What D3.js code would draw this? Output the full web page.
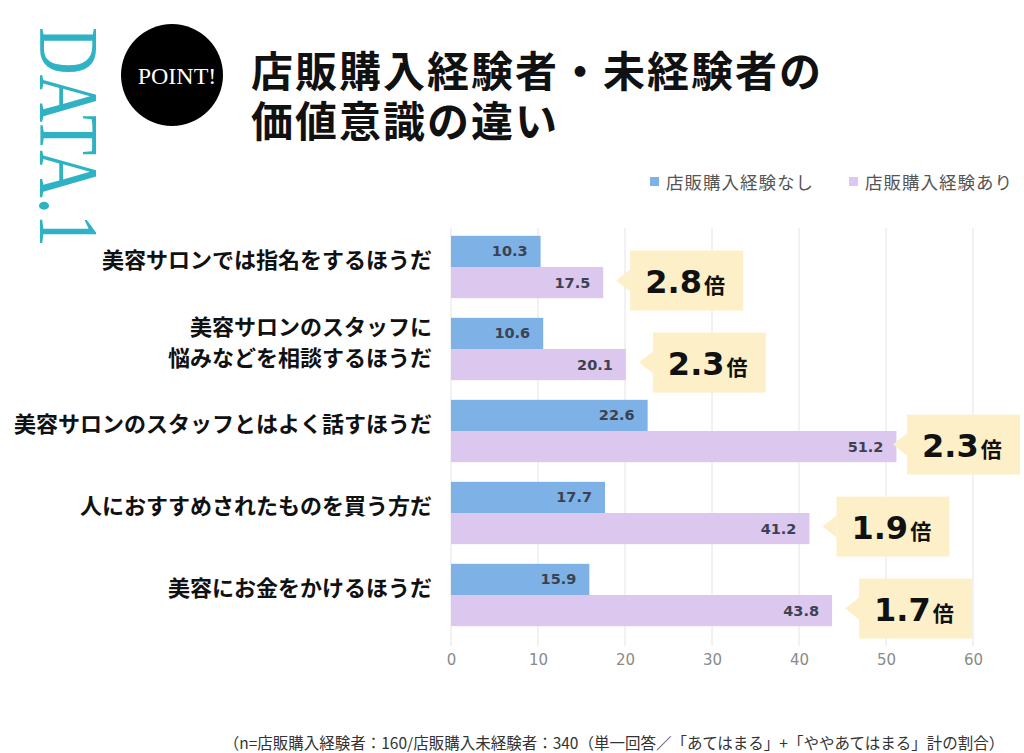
<!DOCTYPE html>
<html><head><meta charset="utf-8">
<script src="https://cdn.jsdelivr.net/npm/d3@7"></script>
<style>body{margin:0;background:#fff;}svg{display:block;}</style>
</head><body>
<svg id="c" width="1024" height="753"></svg>
<script>
const categories = [
  ["美容サロンでは指名をするほうだ"],
  ["美容サロンのスタッフに","悩みなどを相談するほうだ"],
  ["美容サロンのスタッフとはよく話すほうだ"],
  ["人におすすめされたものを買う方だ"],
  ["美容にお金をかけるほうだ"]
];
const seriesNames = ["店販購入経験なし","店販購入経験あり"];
const noExp = [10.3, 10.6, 22.6, 17.7, 15.9];
const withExp = [17.5, 20.1, 51.2, 41.2, 43.8];
const ratios = ["2.8","2.3","2.3","1.9","1.7"];
const xTicks = [0,10,20,30,40,50,60];
const titleLines = ["店販購入経験者・未経験者の","価値意識の違い"];
const footnote = "（n=店販購入経験者：160/店販購入未経験者：340（単一回答／「あてはまる」+「ややあてはまる」計の割合）";

const colors = ["#7eb1e6","#dcc7ee"];
const jp = "'Noto Sans CJK JP','Noto Sans',sans-serif";
const svg = d3.select("#c");

const x = d3.scaleLinear().domain([0,60]).range([451,973]);
const y = d3.scaleBand().domain(d3.range(categories.length)).range([226,636]).paddingInner(0.24).paddingOuter(0.12);
const sub = d3.scaleBand().domain([0,1]).range([0,y.bandwidth()]);

// DATA.1 vertical
svg.append("text").attr("transform","translate(40,27) rotate(90)")
  .attr("font-family","'Liberation Serif','DejaVu Serif',serif").attr("font-size",84)
  .attr("fill","#2fb3c4")
  .attr("textLength",220).attr("lengthAdjust","spacingAndGlyphs")
  .text("DATA.1");

// POINT circle
svg.append("circle").attr("cx",172).attr("cy",75).attr("r",51).attr("fill","#000");
svg.append("text").attr("x",177).attr("y",84).attr("text-anchor","middle")
  .attr("font-family","'Liberation Serif',serif").attr("font-size",24).attr("fill","#fff").text("POINT!");

// Title (one text element, two lines)
const title = svg.append("text").attr("font-family",jp).attr("font-weight","bold")
  .attr("font-size",42).attr("letter-spacing",2).attr("fill","#111");
titleLines.forEach((t,i)=>{
  title.append("tspan").attr("x",251).attr("y",87+i*50).text(t);
});

// Legend
const lg = [{x:650,name:seriesNames[0],c:colors[0]},{x:849,name:seriesNames[1],c:colors[1]}];
lg.forEach(l=>{
  svg.append("rect").attr("x",l.x).attr("y",177).attr("width",9).attr("height",9).attr("fill",l.c);
  svg.append("text").attr("x",l.x+16).attr("y",189).attr("font-family",jp).attr("font-size",17.5)
    .attr("letter-spacing",1).attr("fill","#555").text(l.name);
});

// Gridlines
svg.append("g").selectAll("line").data(xTicks).join("line")
  .attr("x1",d=>x(d)).attr("x2",d=>x(d)).attr("y1",228).attr("y2",646)
  .attr("stroke","#e4e4e4").attr("stroke-width",1);

// Axis
const ax = svg.append("g").attr("transform","translate(0,636)")
  .call(d3.axisBottom(x).tickValues(xTicks).tickSize(0).tickPadding(18));
ax.select(".domain").remove();
ax.selectAll("text").attr("font-family","'DejaVu Sans',sans-serif").attr("font-size",15).attr("fill","#8a8a8a");

// Bars
const series = [noExp, withExp];
series.forEach((vals,si)=>{
  svg.append("g").selectAll("rect").data(vals).join("rect")
    .attr("x",x(0)).attr("y",(d,i)=>y(i)+sub(si)).attr("width",d=>x(d)-x(0)).attr("height",sub.bandwidth())
    .attr("fill",colors[si]);
  svg.append("g").selectAll("text").data(vals).join("text")
    .attr("x",d=>x(d)-13).attr("y",(d,i)=>y(i)+sub(si)+sub.bandwidth()/2+5)
    .attr("text-anchor","end").attr("font-family","'DejaVu Sans',sans-serif").attr("font-weight","bold")
    .attr("font-size",14.5).attr("fill","#3b4250").text(d=>d.toFixed(1));
});

// Category labels
categories.forEach((lines,i)=>{
  const cy = y(i)+y.bandwidth()/2 - 7;
  const n = lines.length;
  const t = svg.append("text").attr("text-anchor","end").attr("font-family",jp).attr("font-weight","bold")
      .attr("font-size",22).attr("fill","#111");
  lines.forEach((s,j)=>{
    t.append("tspan").attr("x",432).attr("y",cy+8+(j-(n-1)/2)*31).text(s);
  });
});

// Callouts
withExp.forEach((v,i)=>{
  const w = 113, h = 60;
  const bx = Math.min(x(v)+27, 1020-w);
  const cy = y(i)+sub(1)+sub.bandwidth()/2-2;
  const cg = svg.append("g");
  cg.append("path").attr("d",`M${bx},${cy-11} L${bx-14},${cy} L${bx},${cy+11} Z`).attr("fill","#fdf0c8");
  cg.append("rect").attr("x",bx).attr("y",cy-h/2).attr("width",w).attr("height",h).attr("fill","#fdf0c8");
  const t = cg.append("text").attr("x",bx+15).attr("y",cy+12).attr("fill","#111");
  t.append("tspan").attr("font-family","'DejaVu Sans',sans-serif").attr("font-weight","bold").attr("font-size",32).text(ratios[i]);
  t.append("tspan").attr("font-family",jp).attr("font-weight","bold").attr("font-size",21).attr("dx",2).text("倍");
});

// Footnote
svg.append("text").attr("x",614).attr("y",749).attr("text-anchor","middle")
  .attr("font-family",jp).attr("font-size",15.5).attr("fill","#333").text(footnote);
</script>
</body></html>
